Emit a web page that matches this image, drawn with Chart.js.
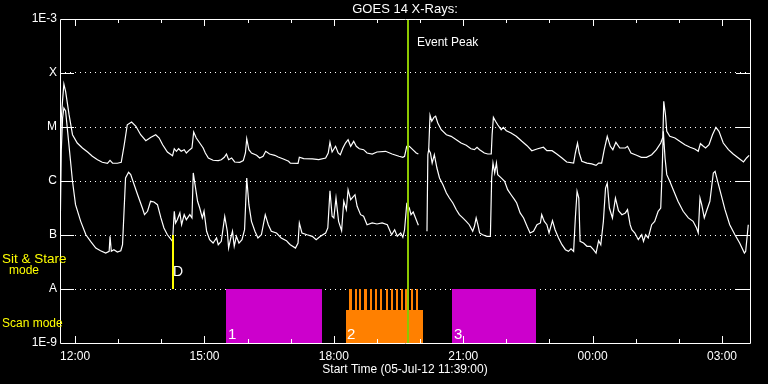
<!DOCTYPE html>
<html>
<head>
<meta charset="utf-8">
<script src="https://cdn.jsdelivr.net/npm/chart.js@4.4.1/dist/chart.umd.min.js"></script>
<style>
  html, body { margin: 0; padding: 0; background: #000; }
</style>
</head>
<body>
<canvas id="goes" width="768" height="384"></canvas>
<script>
// GOES 14 X-ray flux, time in hours from 12:00 on 05-Jul-12

// long channel (upper curve)
let longTimes = [
  -0.34,-0.32,-0.29,-0.26,-0.22,-0.14,-0.06,0.05,0.17,0.29,
  0.40,0.52,0.63,0.75,0.81,0.87,0.98,1.07,1.14,1.21,
  1.31,1.41,1.52,1.64,1.76,1.87,1.95,2.03,2.14,2.26,
  2.30,2.35,2.40,2.46,2.53,2.58,2.66,2.71,2.75,2.81,
  2.89,2.97,3.02,3.09,3.20,3.32,3.39,3.46,3.51,3.56,
  3.63,3.70,3.82,3.90,3.95,3.98,4.03,4.09,4.21,4.28,
  4.36,4.42,4.51,4.63,4.71,4.83,4.95,4.99,5.17,5.20,
  5.30,5.50,5.65,5.81,5.87,5.91,5.96,6.04,6.10,6.15,
  6.21,6.27,6.33,6.39,6.46,6.52,6.59,6.69,6.77,6.89,
  7.00,7.20,7.35,7.51,7.60,7.64,7.69,7.75,7.83,7.91,
  7.96,8.08,8.20,8.23,8.27,8.32,8.36,8.41,8.49,8.61,
  8.72,8.84,8.95,9.07,9.18,9.26,9.32,9.38,9.49,9.57,
  9.65,9.67,9.70,9.75,9.80,9.88,9.93,10.00,10.11,10.23,
  10.36,10.48,10.59,10.71,10.86,10.94,11.06,11.17,11.29,11.40,
  11.56,11.60,11.65,11.69,11.75,11.87,11.98,12.08,12.14,12.21,
  12.27,12.34,12.41,12.47,12.54,12.63,12.76,12.81,12.89,13.02,
  13.13,13.25,13.37,13.48,13.58,13.63,13.65,13.69,13.72,13.79,
  13.91,14.02,14.14,14.26,14.37,14.45,14.50,14.57,14.62,14.70,
  14.78,14.86,14.93,15.03,15.15,15.26,15.38,15.50,15.57,15.63
];
let longFlux = [
  3.75e-6,1.47e-5,3.16e-5,6.25e-5,4.58e-5,1.69e-5,7.2e-6,5.05e-6,4.08e-6,3.44e-6,
  2.87e-6,2.48e-6,2.22e-6,2.13e-6,2.42e-6,2.15e-6,2.13e-6,2.22e-6,4.70e-6,1.10e-5,
  1.24e-5,1.03e-5,7.2e-6,5.57e-6,6.45e-6,7.2e-6,6.25e-6,4.70e-6,3.44e-6,2.94e-6,
  3.96e-6,3.55e-6,3.96e-6,3.55e-6,3.80e-6,3.30e-6,3.80e-6,4.08e-6,8.08e-6,6.25e-6,
  5.05e-6,4.08e-6,3.30e-6,2.67e-6,2.42e-6,2.38e-6,2.48e-6,2.75e-6,3.16e-6,2.48e-6,
  2.67e-6,2.25e-6,2.22e-6,2.38e-6,3.30e-6,6.07e-6,3.80e-6,3.30e-6,2.99e-6,2.67e-6,
  2.87e-6,3.55e-6,3.16e-6,2.99e-6,2.78e-6,2.56e-6,2.32e-6,2.15e-6,2.13e-6,2.75e-6,
  2.59e-6,2.56e-6,2.48e-6,2.67e-6,3.30e-6,5.21e-6,3.44e-6,4.39e-6,3.30e-6,3.07e-6,
  4.08e-6,5.05e-6,5.82e-6,4.39e-6,5.43e-6,4.39e-6,3.96e-6,3.80e-6,3.30e-6,3.16e-6,
  3.44e-6,3.55e-6,3.16e-6,2.87e-6,2.75e-6,2.87e-6,4.39e-6,4.39e-6,3.80e-6,3.30e-6,
  3.16e-6,null,3.80e-6,1.65e-5,1.28e-5,1.51e-5,1.58e-5,1.19e-5,8.91e-6,7.2e-6,
  6.72e-6,5.82e-6,5.05e-6,4.58e-6,3.96e-6,3.80e-6,4.21e-6,3.80e-6,3.30e-6,3.16e-6,
  3.16e-6,7.2e-6,1.51e-5,1.28e-5,1.10e-5,8.91e-6,9.87e-6,8.54e-6,7.74e-6,6.72e-6,
  5.43e-6,4.51e-6,3.64e-6,3.91e-6,4.21e-6,3.64e-6,3.64e-6,3.16e-6,2.67e-6,2.25e-6,
  2.15e-6,3.30e-6,5.05e-6,3.30e-6,2.32e-6,2.15e-6,2.07e-6,1.95e-6,2.15e-6,2.15e-6,
  3.80e-6,6.72e-6,4.39e-6,3.80e-6,5.21e-6,4.08e-6,4.08e-6,4.39e-6,3.30e-6,2.99e-6,
  2.75e-6,2.75e-6,3.07e-6,3.80e-6,5.05e-6,6.45e-6,2.99e-5,1.69e-5,8.32e-6,6.72e-6,
  6.25e-6,5.43e-6,4.70e-6,4.21e-6,3.91e-6,3.55e-6,4.91e-6,4.39e-6,4.08e-6,4.70e-6,
  7.2e-6,9.87e-6,8.32e-6,5.05e-6,3.80e-6,3.16e-6,2.67e-6,2.25e-6,2.67e-6,2.99e-6
];

// short channel (lower curve)
let shortTimes = [
  -0.34,-0.32,-0.29,-0.26,-0.22,-0.06,0.01,0.13,0.25,0.36,
  0.48,0.59,0.71,0.79,0.81,0.84,0.90,0.98,1.06,1.10,
  1.17,1.24,1.29,1.37,1.45,1.56,1.61,1.68,1.75,1.83,
  1.91,1.99,2.06,2.14,2.26,2.30,2.33,2.37,2.43,2.47,
  2.53,2.58,2.66,2.71,2.74,2.77,2.84,2.89,2.95,2.99,
  3.05,3.12,3.20,3.28,3.32,3.39,3.47,3.53,3.56,3.61,
  3.65,3.69,3.74,3.80,3.87,3.93,3.98,4.03,4.09,4.17,
  4.24,4.32,4.41,4.48,4.55,4.67,4.78,4.90,4.95,4.99,
  5.11,5.17,5.20,5.26,5.38,5.50,5.59,5.69,5.81,5.86,
  5.91,5.96,6.00,6.05,6.11,6.18,6.23,6.29,6.33,6.39,
  6.49,6.54,6.62,6.69,6.77,6.89,7.00,7.12,7.24,7.34,
  7.41,7.47,7.55,7.60,7.64,7.69,7.75,7.79,7.84,7.91,
  7.96,8.08,8.16,8.18,8.20,8.24,8.28,8.33,8.39,8.45,
  8.53,8.61,8.68,8.76,8.84,8.91,8.99,9.07,9.14,9.22,
  9.26,9.30,9.34,9.38,9.45,9.55,9.63,9.66,9.69,9.73,
  9.77,9.80,9.88,9.96,10.03,10.11,10.19,10.24,10.32,10.40,
  10.48,10.55,10.63,10.71,10.79,10.82,10.88,10.94,10.99,11.07,
  11.13,11.21,11.29,11.37,11.44,11.50,11.56,11.60,11.64,11.68,
  11.71,11.79,11.87,11.95,12.02,12.08,12.14,12.19,12.25,12.30,
  12.34,12.39,12.46,12.53,12.60,12.68,12.76,12.81,12.87,12.91,
  12.98,13.06,13.14,13.18,13.23,13.29,13.37,13.44,13.52,13.58,
  13.61,13.64,13.68,13.72,13.79,13.87,13.98,14.10,14.22,14.33,
  14.41,14.45,14.49,14.53,14.59,14.64,14.72,14.80,14.84,14.90,
  14.98,15.07,15.18,15.30,15.41,15.52,15.55,15.61
];
let shortFlux = [
  2.56e-7,3.75e-6,1.47e-5,2.25e-5,1.98e-5,9.87e-7,3.64e-7,1.79e-7,1.01e-7,7.64e-8,
  5.74e-8,5.12e-8,4.64e-8,4.99e-8,9.46e-8,4.99e-8,5.34e-8,4.84e-8,5.12e-8,6.61e-8,
  1.14e-6,1.45e-6,1.31e-6,8.54e-7,5.57e-7,3.16e-7,2.38e-7,2.75e-7,4.21e-7,4.08e-7,
  3.64e-7,2.07e-7,1.35e-7,1.01e-7,7.64e-8,2.75e-7,1.67e-7,1.92e-7,2.56e-7,1.55e-7,
  2.38e-7,1.92e-7,2.38e-7,2.07e-7,1.41e-6,9.87e-7,4.21e-7,3.16e-7,2.07e-7,2.75e-7,
  1.17e-7,8.18e-8,7.10e-8,8.8e-8,6.61e-8,7.64e-8,2.22e-7,1.17e-7,5.74e-8,8.8e-8,
  1.17e-7,6.18e-8,9.46e-8,7.10e-8,8.18e-8,1.25e-7,1.14e-6,3.64e-7,1.79e-7,1.17e-7,
  8.8e-8,1.01e-7,2.38e-7,1.55e-7,1.17e-7,1.09e-7,8.8e-8,7.84e-8,7.10e-8,6.61e-8,
  5.74e-8,7.10e-8,1.67e-7,1.09e-7,1.01e-7,9.46e-8,8.18e-8,9.46e-8,1.09e-7,1.35e-7,
  6.61e-7,2.22e-7,2.07e-7,4.84e-7,1.79e-7,1.20e-7,4.21e-7,2.94e-7,6.9e-7,4.51e-7,
  5.57e-7,3.40e-7,2.38e-7,2.22e-7,1.55e-7,1.67e-7,1.60e-7,1.67e-7,1.55e-7,1.01e-7,
  1.25e-7,9.46e-8,1.09e-7,9.06e-8,1.25e-7,3.75e-7,3.16e-7,2.38e-7,2.67e-7,1.92e-7,
  1.51e-7,null,1.17e-7,3.07e-6,3.80e-6,3.30e-6,2.15e-6,3.07e-6,1.74e-6,1.14e-6,
  8.54e-7,5.99e-7,4.84e-7,3.91e-7,2.94e-7,2.38e-7,2.07e-7,1.79e-7,1.55e-7,1.17e-7,
  1.45e-7,2.07e-7,1.55e-7,1.09e-7,1.01e-7,9.46e-8,9.46e-8,1.14e-6,2.15e-6,1.41e-6,
  2.15e-6,1.31e-6,1.14e-6,9.87e-7,6.9e-7,5.57e-7,4.51e-7,3.91e-7,2.56e-7,2.07e-7,
  1.45e-7,1.09e-7,1.17e-7,1.55e-7,1.67e-7,2.38e-7,1.79e-7,1.55e-7,1.09e-7,1.84e-7,
  1.25e-7,8.8e-8,6.61e-8,5.34e-8,4.99e-8,5.57e-8,4.99e-8,2.07e-7,6.45e-7,4.84e-7,
  7.64e-8,7.10e-8,6.18e-8,6.18e-8,5.34e-8,4.64e-8,7.84e-8,6.61e-8,1.79e-7,7.42e-7,
  9.18e-7,3.16e-7,2.07e-7,4.84e-7,2.82e-7,2.38e-7,2.56e-7,2.94e-7,1.55e-7,1.25e-7,
  1.09e-7,8.18e-8,1.01e-7,7.64e-8,1.01e-7,8.8e-8,1.55e-7,1.79e-7,2.75e-7,3.16e-7,
  1.31e-6,8.32e-6,2.67e-6,1.31e-6,9.87e-7,6.9e-7,4.21e-7,2.75e-7,2.07e-7,1.79e-7,
  1.35e-7,1.09e-7,4.84e-7,3.64e-7,2.07e-7,2.75e-7,4.21e-7,1.41e-6,1.51e-6,9.87e-7,
  5.57e-7,2.94e-7,1.55e-7,1.01e-7,7.10e-8,4.64e-8,4.99e-8,1.55e-7
];

// axes
let fluxTicks = [1e-9, 1e-8, 1e-7, 1e-6, 1e-5, 1e-4, 1e-3];
let fluxLabels = ['1E-9', 'A', 'B', 'C', 'M', 'X', '1E-3'];
let hourTicks = [0, 3, 6, 9, 12, 15];
let hourLabels = ['12:00', '15:00', '18:00', '21:00', '00:00', '03:00'];
let timeMin = -0.35, timeMax = 15.65;

// observing modes
let scanStart = [3.49, 8.75];
let scanEnd = [5.73, 10.68];
let scanNames = ['1', '3'];
let stareStart = [6.29];
let stareEnd = [8.06];
let stareNames = ['2'];
let stareSpikes = [6.36,6.48,6.59,6.71,6.83,6.95,7.07,7.20,7.32,7.44,7.55,7.66,7.79,7.91];
let spikeLen = 0.05;
let modeTop = 1e-8, stareBase = 4.1e-9;
let sitStareTime = 2.28;
let peakTime = 7.73;

const FONT = "'Liberation Sans', Arial, sans-serif";

const decor = {
  id: 'decor',
  beforeDatasetsDraw(chart) {
    const {ctx, scales: {x, y}} = chart;
    const px = v => Math.round(x.getPixelForValue(v));
    const yTop = Math.round(y.getPixelForValue(modeTop)), yBot = Math.round(y.getPixelForValue(fluxTicks[0]));
    ctx.save();
    ctx.fillStyle = '#cc00cc';
    scanStart.forEach((s, i) => {
      ctx.fillRect(px(s), yTop, px(scanEnd[i]) - px(s), yBot - yTop);
    });
    ctx.fillStyle = '#ff8000';
    const yBase = Math.round(y.getPixelForValue(stareBase));
    stareStart.forEach((s, i) => {
      ctx.fillRect(px(s), yBase, px(stareEnd[i]) - px(s), yBot - yBase);
    });
    stareSpikes.forEach(s => {
      ctx.fillRect(px(s), yTop, Math.max(2, px(s + spikeLen) - px(s)), yBase - yTop + 1);
    });
    // block numbers
    ctx.fillStyle = '#fff';
    ctx.font = '15px ' + FONT;
    ctx.textBaseline = 'alphabetic';
    ctx.textAlign = 'left';
    scanStart.forEach((s, i) => ctx.fillText(scanNames[i], px(s) + 2, yBot - 4));
    stareStart.forEach((s, i) => ctx.fillText(stareNames[i], px(s) + 1, yBot - 4));
    ctx.restore();
  },
  afterDatasetsDraw(chart) {
    const {ctx, chartArea: a, scales: {x, y}} = chart;
    ctx.save();
    // sit & stare marker
    const xs = Math.round(x.getPixelForValue(sitStareTime));
    ctx.strokeStyle = '#ffff00';
    ctx.lineWidth = 2;
    ctx.beginPath();
    ctx.moveTo(xs, y.getPixelForValue(1e-8));
    ctx.lineTo(xs, y.getPixelForValue(1e-7));
    ctx.stroke();
    ctx.fillStyle = '#fff';
    ctx.font = '14px ' + FONT;
    ctx.textAlign = 'left';
    ctx.textBaseline = 'middle';
    ctx.fillText('D', xs, 272);

    // event peak
    const xp = Math.round(x.getPixelForValue(peakTime));
    ctx.strokeStyle = '#8cc800';
    ctx.lineWidth = 2;
    ctx.beginPath();
    ctx.moveTo(xp, a.top);
    ctx.lineTo(xp, a.bottom);
    ctx.stroke();
    ctx.fillStyle = '#fff';
    ctx.font = '12px ' + FONT;
    ctx.fillText('Event Peak', xp + 9, 43);

    // frame and ticks
    ctx.strokeStyle = '#fff';
    ctx.lineWidth = 1;
    ctx.beginPath();
    ctx.rect(a.left + 0.5, a.top + 0.5, a.right - a.left, a.bottom - a.top);
    fluxTicks.slice(1, -1).forEach(v => {
      const py = Math.round(y.getPixelForValue(v)) + 0.5;
      ctx.moveTo(a.left, py); ctx.lineTo(a.left + 14, py);
      ctx.moveTo(a.right - 14, py); ctx.lineTo(a.right, py);
    });
    for (let h = Math.ceil(timeMin); h <= Math.floor(timeMax); h++) {
      const tx = Math.round(x.getPixelForValue(h)) + 0.5;
      const len = h % 3 === 0 ? 7 : 4;
      ctx.moveTo(tx, a.bottom); ctx.lineTo(tx, a.bottom - len);
      ctx.moveTo(tx, a.top); ctx.lineTo(tx, a.top + len);
    }
    ctx.stroke();

    // titles
    ctx.fillStyle = '#fff';
    ctx.font = '13px ' + FONT;
    ctx.textAlign = 'center';
    ctx.fillText('GOES 14 X-Rays:', (a.left + a.right) / 2, 9);
    ctx.fillStyle = '#ffff00';
    ctx.textAlign = 'left';
    ctx.font = '13.5px ' + FONT;
    ctx.fillText('Sit & Stare', 2, 259);
    ctx.font = '12px ' + FONT;
    ctx.textAlign = 'center';
    ctx.fillText('mode', 24, 271);
    ctx.textAlign = 'left';
    ctx.fillText('Scan mode', 2, 324);
    ctx.restore();
  }
};

const toPoints = (ts, fs) => ts.map((t, i) => ({x: t, y: fs[i]}));

const config = {
  type: 'line',
  data: {
    datasets: [
      {label: 'long', data: toPoints(longTimes, longFlux), borderColor: '#fff', borderWidth: 1.2, pointRadius: 0, tension: 0, spanGaps: false},
      {label: 'short', data: toPoints(shortTimes, shortFlux), borderColor: '#fff', borderWidth: 1.2, pointRadius: 0, tension: 0, spanGaps: false}
    ]
  },
  options: {
    responsive: false,
    animation: false,
    layout: {padding: {top: 19, right: 18, bottom: 0, left: 0}},
    plugins: {legend: {display: false}, tooltip: {enabled: false}},
    scales: {
      x: {
        type: 'linear', min: timeMin, max: timeMax,
        afterBuildTicks: s => { s.ticks = hourTicks.map(v => ({value: v})); },
        afterFit: s => { s.height = 41; },
        ticks: {color: '#fff', font: {family: FONT, size: 12}, padding: 6, maxRotation: 0, autoSkip: false,
                callback: (v, i) => hourLabels[i]},
        grid: {display: false, drawTicks: false},
        border: {display: false},
        title: {display: true, text: 'Start Time (05-Jul-12 11:39:00)', color: '#fff',
                font: {family: FONT, size: 12}, padding: {top: 0, bottom: 7}}
      },
      y: {
        type: 'logarithmic', min: fluxTicks[0], max: fluxTicks[fluxTicks.length - 1],
        afterBuildTicks: s => { s.ticks = fluxTicks.map(v => ({value: v})); },
        afterFit: s => { s.width = 60; },
        ticks: {color: '#fff', font: {family: FONT, size: 12}, padding: 3,
                callback: (v, i) => fluxLabels[i]},
        grid: {drawTicks: false, lineWidth: 1,
               color: c => (c.index === 0 || c.index === fluxTicks.length - 1) ? 'rgba(0,0,0,0)' : '#fff'},
        border: {display: false, dash: [1, 4]}
      }
    }
  },
  plugins: [decor]
};

const goesChart = new Chart('goes', config);
</script>
</body>
</html>
